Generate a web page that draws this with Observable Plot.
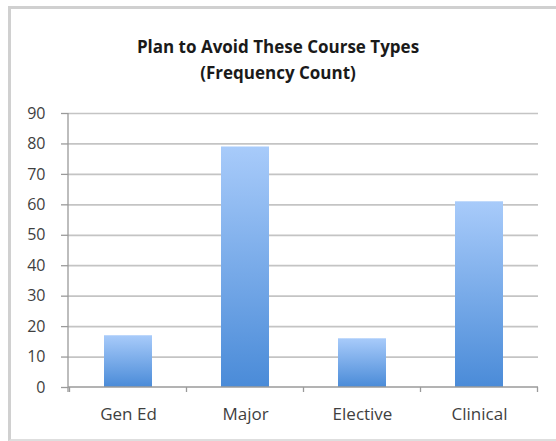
<!DOCTYPE html>
<html>
<head>
<meta charset="utf-8">
<script src="https://cdn.jsdelivr.net/npm/d3@7"></script>
<script src="https://cdn.jsdelivr.net/npm/@observablehq/plot@0.6"></script>
<style>
  html, body { margin: 0; padding: 0; background: #fff; }
  #wrap { position: relative; width: 556px; height: 441px; overflow: hidden; background: #fff; }
  #frame { position: absolute; left: 8px; top: 6px; width: 600px; height: 430px;
           border-left: 3px solid #d0d0d0; border-top: 3px solid #d0d0d0; border-bottom: 2px solid #dedede; }
  #title { position: relative; box-sizing: border-box; height: 90px; padding-top: 34px; width: 556px;
           text-align: center; font-family: "Open Sans", sans-serif; font-weight: bold; font-size: 17px;
           line-height: 26px; color: #1a1a1a; }
  #chart { position: relative; }
</style>
</head>
<body>
<div id="wrap">
  <div id="frame"></div>
  <div id="title"></div>
  <div id="chart"></div>
</div>
<script>
const titleLines = ["Plan to Avoid These Course Types", "(Frequency Count)"];
const categories = ["Gen Ed", "Major", "Elective", "Clinical"];
const counts = [17, 79, 16, 61];
const yTicks = [0, 10, 20, 30, 40, 50, 60, 70, 80, 90];

const data = categories.map((c, i) => ({category: c, count: counts[i]}));

document.getElementById("title").innerHTML = titleLines.join("<br>");

const axisColor = "#9a9a9a";
const textColor = "#3f3f3f";

function gradientDefs() {
  const g = d3.create("svg:g");
  const lg = g.append("defs").append("linearGradient")
    .attr("id", "barGrad").attr("x1", 0).attr("y1", 0).attr("x2", 0).attr("y2", 1);
  lg.append("stop").attr("offset", "0%").attr("stop-color", "#a8cbfa");
  lg.append("stop").attr("offset", "100%").attr("stop-color", "#4a8bd8");
  return g.node();
}

function axisLines(index, scales, values, dims) {
  const x = scales.x, y = scales.y;
  const sx = scales.scales && scales.scales.x;
  const bw = typeof x.bandwidth === "function" ? x.bandwidth() : sx.bandwidth;
  const step = typeof x.step === "function" ? x.step() : sx.step;
  const y0 = y(0), yTop = y(yTicks[yTicks.length - 1]);
  const left = dims.marginLeft, right = dims.width - dims.marginRight;
  const edges = categories.map(c => x(c) - (step - bw) / 2);
  edges.push(edges[edges.length - 1] + step);
  const g = d3.create("svg:g").attr("stroke", axisColor).attr("fill", "none").attr("stroke-width", 1.3);
  g.append("line").attr("x1", left).attr("x2", left).attr("y1", yTop).attr("y2", y0 + 5);
  g.append("line").attr("x1", left).attr("x2", right).attr("y1", y0).attr("y2", y0);
  for (const e of edges) {
    g.append("line").attr("x1", e).attr("x2", e).attr("y1", y0).attr("y2", y0 + 5);
  }
  return g.node();
}

const plot = Plot.plot({
  width: 556,
  height: 351,
  marginLeft: 68,
  marginRight: 18,
  marginTop: 23,
  marginBottom: 54,
  style: {fontFamily: "'Open Sans', sans-serif", fontSize: "16px", color: textColor, background: "transparent", overflow: "visible"},
  x: {domain: categories, paddingInner: 0.592, paddingOuter: 0.296, label: null},
  y: {domain: [0, 90], label: null},
  marks: [
    gradientDefs,
    Plot.ruleY(yTicks.slice(1), {stroke: "#c4c4c4", strokeWidth: 1.7}),
    Plot.barY(data, {x: "category", y: "count", fill: "url(#barGrad)"}),
    axisLines,
    Plot.axisY({ticks: yTicks, tickSize: 7, tickPadding: 16, stroke: axisColor, strokeWidth: 1.3, fill: textColor, label: null, tickFormat: d => String(d)}),
    Plot.axisX({tickSize: 0, tickPadding: 20, fill: textColor, fontSize: 17, label: null})
  ]
});
document.getElementById("chart").appendChild(plot);
</script>
</body>
</html>
